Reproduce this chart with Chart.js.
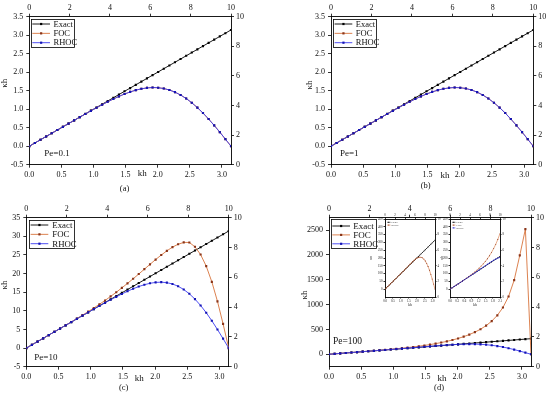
<!DOCTYPE html>
<html><head><meta charset="utf-8">
<script src="https://cdn.jsdelivr.net/npm/chart.js@4.4.1/dist/chart.umd.min.js"></script>
<style>
html,body{margin:0;padding:0;background:#fff;}
#wrap{position:relative;width:550px;height:396px;overflow:hidden;background:#fff;}
canvas{position:absolute;}
</style></head><body>
<div id="wrap">
<canvas id="pa" width="275" height="198" style="left:0px;top:0px"></canvas>
<canvas id="pb" width="275" height="198" style="left:275px;top:0px"></canvas>
<canvas id="pc" width="275" height="198" style="left:0px;top:198px"></canvas>
<canvas id="pd" width="275" height="198" style="left:275px;top:198px"></canvas>
<canvas id="i1" width="72" height="108" style="left:370px;top:205px"></canvas>
<canvas id="i2" width="68" height="108" style="left:440px;top:205px"></canvas>
</div>
<script>
// ---------------- data ----------------
const kh = [0, 0.0873, 0.1745, 0.2618, 0.3491, 0.4363, 0.5236, 0.6109, 0.6981, 0.7854, 0.8727, 0.9599, 1.0472, 1.1345, 1.2217, 1.3090, 1.3963, 1.4835, 1.5708, 1.6581, 1.7453, 1.8326, 1.9199, 2.0071, 2.0944, 2.1817, 2.2689, 2.3562, 2.4435, 2.5307, 2.6180, 2.7053, 2.7925, 2.8798, 2.9671, 3.0543, 3.1416];

// Pe = 0.1 and Pe = 1 (panels a, b)
const exactLow = [0, 0.0873, 0.1745, 0.2618, 0.3491, 0.4363, 0.5236, 0.6109, 0.6981, 0.7854, 0.8727, 0.9599, 1.0472, 1.1345, 1.2217, 1.3090, 1.3963, 1.4835, 1.5708, 1.6581, 1.7453, 1.8326, 1.9199, 2.0071, 2.0944, 2.1817, 2.2689, 2.3562, 2.4435, 2.5307, 2.6180, 2.7053, 2.7925, 2.8798, 2.9671, 3.0543, 3.1416];
const focLow = [0, 0.0873, 0.1745, 0.2618, 0.3491, 0.4363, 0.5235, 0.6107, 0.6976, 0.7842, 0.8703, 0.9555, 1.0392, 1.1210, 1.2000, 1.2753, 1.3457, 1.4100, 1.4667, 1.5142, 1.5510, 1.5753, 1.5857, 1.5807, 1.5589, 1.5193, 1.4612, 1.3842, 1.2885, 1.1745, 1.0431, 0.8959, 0.7347, 0.5618, 0.3798, 0.1915, 0];
const rhocLow = [0, 0.0873, 0.1745, 0.2618, 0.3491, 0.4363, 0.5235, 0.6107, 0.6976, 0.7842, 0.8703, 0.9555, 1.0392, 1.1210, 1.2000, 1.2753, 1.3457, 1.4100, 1.4667, 1.5142, 1.5510, 1.5753, 1.5857, 1.5807, 1.5589, 1.5193, 1.4612, 1.3842, 1.2885, 1.1745, 1.0431, 0.8959, 0.7347, 0.5618, 0.3798, 0.1915, 0];

// Pe = 10 (panel c)
const exactPe10 = [0, 0.873, 1.745, 2.618, 3.491, 4.363, 5.236, 6.109, 6.981, 7.854, 8.727, 9.599, 10.472, 11.345, 12.217, 13.090, 13.963, 14.835, 15.708, 16.581, 17.453, 18.326, 19.199, 20.071, 20.944, 21.817, 22.689, 23.562, 24.435, 25.307, 26.180, 27.053, 27.925, 28.798, 29.671, 30.543, 31.416];
const focPe10 = [0, 0.873, 1.745, 2.619, 3.492, 4.367, 5.244, 6.126, 7.01, 7.91, 8.84, 9.78, 10.75, 11.75, 12.78, 13.87, 14.98, 16.17, 17.37, 18.60, 19.87, 21.18, 22.48, 23.76, 24.97, 26.10, 27.10, 27.87, 28.36, 28.35, 27.19, 25.11, 22.00, 17.78, 12.55, 6.50, 0];
const rhocPe10 = [0, 0.873, 1.745, 2.618, 3.491, 4.363, 5.236, 6.108, 6.980, 7.850, 8.719, 9.584, 10.444, 11.297, 12.137, 12.961, 13.761, 14.529, 15.253, 15.920, 16.513, 17.010, 17.390, 17.627, 17.693, 17.561, 17.203, 16.597, 15.724, 14.573, 13.143, 11.442, 9.492, 7.325, 4.985, 2.524, 0];

// Pe = 100 (panel d)
const exactPe100 = [0, 8.73, 17.45, 26.18, 34.91, 43.63, 52.36, 61.09, 69.81, 78.54, 87.27, 95.99, 104.72, 113.45, 122.17, 130.90, 139.63, 148.35, 157.08, 165.81, 174.53, 183.26, 191.99, 200.71, 209.44, 218.17, 226.89, 235.62, 244.35, 253.07, 261.80, 270.53, 279.25, 287.98, 296.71, 305.43, 314.16];
const focPe100 = [0, 8.73, 17.46, 26.19, 34.94, 43.73, 52.59, 61.57, 70.73, 80.14, 89.89, 100.08, 110.82, 122.25, 134.50, 147.74, 162.14, 177.91, 195.30, 214.57, 236.06, 260.20, 287.50, 318.64, 354.49, 396.23, 445.47, 504.54, 576.78, 667.37, 784.52, 941.81, 1163.2, 1492.3, 1991.2, 2520, 0];
const rhocPe100 = [0, 8.73, 17.45, 26.18, 34.91, 43.63, 52.36, 61.10, 69.84, 78.60, 87.39, 96.21, 105.09, 114.05, 123.08, 132.21, 141.41, 150.65, 159.87, 168.93, 177.66, 185.81, 193.07, 199.02, 203.23, 205.21, 204.42, 200.40, 192.73, 181.08, 165.31, 145.45, 121.73, 94.60, 64.70, 32.85, 0];

const insetCount = 25;   // points shown in the right inset of (d)

// tick labels
const khTicks = [0, 0.5, 1.0, 1.5, 2.0, 2.5, 3.0];
const topTicks = [0, 2, 4, 6, 8, 10];
const rightTicks = [0, 2, 4, 6, 8, 10];
const yTicksLow = [-0.5, 0, 0.5, 1.0, 1.5, 2.0, 2.5, 3.0, 3.5];
const yTicksPe10 = [-5, 0, 5, 10, 15, 20, 25, 30, 35];
const yTicksPe100 = [0, 500, 1000, 1500, 2000, 2500];
const insetYTicks = [0, 50, 100, 150, 200, 250, 300, 350, 400, 450];
const inset2XTicks = [0, 0.3, 0.6, 0.9, 1.2, 1.5, 1.8, 2.1];

// ---------------- style ----------------
const FONT = '"Liberation Serif", "DejaVu Serif", serif';
const LINE = {exact:'#000000', foc:'#d8743c', rhoc:'#3b3bf2'};
const PT   = {exact:'#000000', foc:'#8a3418', rhoc:'#1414b4'};
const ORDER = {exact:2, foc:1, rhoc:0};

function axis(pos, min, max, ticks, size, fs, fmt, tl, pad){
  return {
    type:'linear', position:pos, min:min, max:max, display:true,
    grid:{display:true, drawOnChartArea:false, drawTicks:true, tickLength:tl, tickColor:'#000', tickWidth:0.8, color:'#000'},
    border:{display:true, color:'#000', width:0.9},
    ticks:{color:'#111', font:{family:FONT, size:fs}, padding:pad, autoSkip:false, maxRotation:0, minRotation:0,
      callback:(v)=>fmt(v)},
    afterBuildTicks:(s)=>{ s.ticks = ticks.map(v=>({value:v})); },
    afterFit:(s)=>{
      if(pos==='left'||pos==='right') s.width=size; else s.height=size;
      s.paddingLeft=0; s.paddingRight=0; s.paddingTop=0; s.paddingBottom=0;
    }
  };
}

function decor(o){
  return {id:'decor', afterDraw(chart){
    const c=chart.ctx, a=chart.chartArea;
    const cx=(a.left+a.right)/2, cy=(a.top+a.bottom)/2;
    c.save();
    c.textBaseline='middle';
    for(const t of o.texts){
      const bx=t.bx==='l'?a.left:t.bx==='r'?a.right:cx;
      const by=t.by==='t'?a.top:t.by==='b'?a.bottom:cy;
      c.save();
      c.translate(bx+t.dx, by+t.dy);
      if(t.rot) c.rotate(-Math.PI/2);
      c.fillStyle='#111';
      c.font=t.fs+'px '+FONT;
      c.textAlign=t.align||'center';
      c.fillText(t.t,0,0);
      c.restore();
    }
    if(o.legend){
      const L=o.legend, x0=a.left+L.dx, y0=a.top+L.dy;
      if(L.border){
        c.strokeStyle='#000'; c.lineWidth=0.8;
        c.strokeRect(Math.round(x0)+0.5, Math.round(y0)+0.5, Math.round(L.w), Math.round(L.h));
      }
      chart.data.datasets.forEach((d,k)=>{
        const y=y0+L.r0+k*L.rh;
        c.strokeStyle=d.borderColor; c.lineWidth=L.lw;
        c.beginPath(); c.moveTo(x0+L.l0,y); c.lineTo(x0+L.l1,y); c.stroke();
        c.fillStyle=d.pointBackgroundColor;
        c.fillRect(x0+(L.l0+L.l1)/2-L.ms/2, y-L.ms/2, L.ms, L.ms);
        c.fillStyle='#111'; c.font=L.fs+'px '+FONT; c.textAlign='left';
        c.fillText(d.label, x0+L.tx, y+0.5);
      });
    }
    c.restore();
  }};
}

function panel(id, o){
  const el=document.getElementById(id);
  const datasets=o.series.map(s=>({
    label:s.label,
    data:s.xs.map((x,i)=>({x:x, y:s.ys[i]})),
    borderColor:s.line||LINE[s.key], backgroundColor:s.pt||PT[s.key],
    pointBackgroundColor:s.pt||PT[s.key], pointBorderColor:s.pt||PT[s.key],
    pointBorderWidth:0, pointRadius:o.pr, pointStyle:'rect',
    borderWidth:o.lw, tension:0, order:ORDER[s.key], xAxisID:'x', yAxisID:'y'
  }));
  const S=o.sizes; // [L,R,T,B]
  new Chart(el,{type:'line', data:{datasets:datasets}, options:{
    responsive:false, animation:false, devicePixelRatio:1, events:[],
    layout:{padding:0, autoPadding:false},
    plugins:{legend:{display:false}, tooltip:{enabled:false}},
    scales:{
      x: axis('bottom',0,o.xMax,o.xTicks,S[3],o.fs,v=>v.toFixed(o.xDec),o.tl,o.pad[3]),
      x2:axis('top',0,10,topTicks,S[2],o.fs,v=>String(v),o.tl,o.pad[2]),
      y: axis('left',o.yMin,o.yMax,o.yTicks,S[0],o.fs,v=>v.toFixed(o.yDec),o.tl,o.pad[0]),
      y2:axis('right',0,10,rightTicks,S[1],o.fs,v=>String(v),o.tl,o.pad[1])
    }
  }, plugins:[decor(o)]});
}

const mainLegend=(dx,dy,w,h,r0,rh,tx,fs)=>({dx,dy,w,h,r0,rh,l0:1.3,l1:19,tx,fs,lw:0.9,ms:2.2,border:true});
function texts(pe,peDx,peDy,khDx,khDy,kapDx,kapDy,cap,capDx,capDy,peFs){
  return [
    {t:pe,bx:'l',by:'b',dx:peDx,dy:peDy,fs:peFs||9,align:'left'},
    {t:'kh',bx:'c',by:'b',dx:khDx,dy:khDy,fs:9},
    {t:'κh',bx:'l',by:'c',dx:kapDx,dy:kapDy,fs:9,rot:true},
    {t:cap,bx:'c',by:'b',dx:capDx,dy:capDy,fs:8.5}
  ];
}
const common={xMax:Math.PI, xTicks:khTicks, xDec:1, fs:8, tl:3, pad:[3,2,1,2], pr:1.5, lw:0.9};

panel('pa',Object.assign({},common,{
  sizes:[29.3,44,16.7,33.3], yMin:-0.5,yMax:3.5,yTicks:yTicksLow,yDec:1,
  series:[{label:'Exact',key:'exact',xs:kh,ys:exactLow},{label:'FOC',key:'foc',xs:kh,ys:focLow},{label:'RHOC',key:'rhoc',xs:kh,ys:rhocLow}],
  legend:mainLegend(1.7,2.3,43,28.3,5,9.35,22.5,8.5),
  texts:texts('Pe=0.1',15,-11.4,12.2,9.3,-24.3,-7.4,'(a)',-5.6,23.6)
}));
panel('pb',Object.assign({},common,{
  sizes:[56,16.7,16.7,33.3], yMin:-0.5,yMax:3.5,yTicks:yTicksLow,yDec:1,
  series:[{label:'Exact',key:'exact',xs:kh,ys:exactLow},{label:'FOC',key:'foc',xs:kh,ys:focLow},{label:'RHOC',key:'rhoc',xs:kh,ys:rhocLow}],
  legend:mainLegend(2.3,2.3,43.4,28.3,5,9.35,22.5,8.5),
  texts:texts('Pe=1',9,-10.7,12.8,11.3,-21.7,-5.7,'(b)',-6.5,21.3)
}));
panel('pc',Object.assign({},common,{
  sizes:[26.3,46.3,19.7,29.3], yMin:-5,yMax:35,yTicks:yTicksPe10,yDec:0,
  series:[{label:'Exact',key:'exact',xs:kh,ys:exactPe10},{label:'FOC',key:'foc',xs:kh,ys:focPe10},{label:'RHOC',key:'rhoc',xs:kh,ys:rhocPe10}],
  legend:mainLegend(3,2.3,44.7,28.3,5,9.35,23,8.8),
  texts:texts('Pe=10',8,-9.4,11.8,11.6,-21.3,-7.2,'(c)',-3.8,21)
}));
panel('pd',Object.assign({},common,{
  sizes:[54,19,19.7,29.3], yMin:-250,yMax:2750,yTicks:yTicksPe100,yDec:0,
  series:[{label:'Exact',key:'exact',xs:kh,ys:exactPe100},{label:'FOC',key:'foc',xs:kh,ys:focPe100},{label:'RHOC',key:'rhoc',xs:kh,ys:rhocPe100}],
  legend:mainLegend(2,1.3,44.7,29.3,7,8.9,22.3,9),
  texts:texts('Pe=100',4,-25.7,12,12.3,-24.7,2.8,'(d)',9,20.6,9.5)
}));

const insetLegend={dx:1.5,dy:1.5,w:13,h:9,r0:1.8,rh:2.8,l0:0.5,l1:4,tx:5,fs:2.6,lw:0.5,ms:1,border:false};
const insetCommon={fs:3,tl:1.5,pad:[1,1,0.5,0.5],pr:0.6,lw:0.6,yMin:-50,yMax:450,yTicks:insetYTicks,yDec:0,xDec:1};
panel('i1',Object.assign({},insetCommon,{
  sizes:[15,7,14,16], xMax:Math.PI, xTicks:khTicks,
  series:[{label:'Exact',key:'exact',xs:kh,ys:exactPe100},
          {label:'RHOC',key:'rhoc',xs:kh,ys:rhocPe100,line:LINE.foc,pt:PT.foc}],
  legend:insetLegend,
  texts:[{t:'κh',bx:'l',by:'c',dx:-14,dy:0,fs:3.5,rot:true},{t:'kh',bx:'c',by:'b',dx:0,dy:8.5,fs:3.5}]
}));
panel('i2',Object.assign({},insetCommon,{
  sizes:[10,8,14,16], xMax:2.1, xTicks:inset2XTicks, xDec:1,
  series:[{label:'Exact',key:'exact',xs:kh.slice(0,insetCount),ys:exactPe100.slice(0,insetCount)},
          {label:'FOC',key:'foc',xs:kh.slice(0,insetCount),ys:focPe100.slice(0,insetCount)},
          {label:'RHOC',key:'rhoc',xs:kh.slice(0,insetCount),ys:rhocPe100.slice(0,insetCount)}],
  legend:insetLegend,
  texts:[{t:'κh',bx:'l',by:'c',dx:-8,dy:0,fs:3.5,rot:true},{t:'kh',bx:'c',by:'b',dx:0,dy:8.5,fs:3.5}]
}));
</script>
</body></html>
